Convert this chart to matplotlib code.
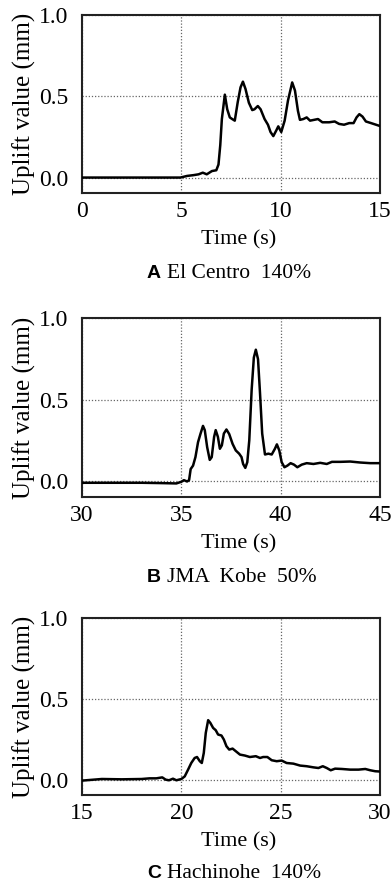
import matplotlib as mpl
import matplotlib.pyplot as plt

mpl.rcParams['font.family'] = ['Liberation Serif', 'DejaVu Serif']

# A  El Centro 140%
elcentro_t = [0, 3, 4.95, 5.29, 5.62, 5.87, 6.08, 6.28, 6.54, 6.76, 6.87, 6.96, 7.04, 7.19,
              7.31, 7.44, 7.56, 7.69, 7.84, 7.98, 8.1, 8.23, 8.4, 8.57, 8.68, 8.85, 8.99,
              9.19, 9.36, 9.49, 9.63, 9.78, 9.88, 10.03, 10.2, 10.37, 10.58, 10.72, 10.87,
              10.97, 11.14, 11.31, 11.48, 11.68, 11.88, 12.1, 12.44, 12.72, 12.94, 13.19,
              13.45, 13.67, 13.82, 13.96, 14.12, 14.29, 14.55, 14.8, 15.05]
elcentro_v = [0.0, 0.0, 0.0, 0.01, 0.015, 0.02, 0.03, 0.02, 0.04, 0.045, 0.08, 0.2, 0.36, 0.51,
              0.42, 0.37, 0.36, 0.35, 0.465, 0.555, 0.59, 0.545, 0.46, 0.415, 0.42, 0.44, 0.42,
              0.36, 0.325, 0.28, 0.255, 0.29, 0.315, 0.28, 0.35, 0.475, 0.585, 0.535, 0.41,
              0.355, 0.36, 0.37, 0.35, 0.355, 0.36, 0.34, 0.34, 0.345, 0.33, 0.325,
              0.335, 0.335, 0.37, 0.39, 0.375, 0.345, 0.335, 0.325, 0.315]

# B  JMA Kobe 50%
kobe_t = [30, 33, 34, 34.75, 35.0, 35.13, 35.29, 35.39, 35.47, 35.59, 35.71, 35.84, 35.96,
          36.09, 36.18, 36.3, 36.43, 36.53, 36.65, 36.73, 36.84, 36.94, 37.04, 37.14, 37.27,
          37.41, 37.58, 37.74, 37.91, 38.03, 38.11, 38.22, 38.32, 38.42, 38.54, 38.65, 38.75,
          38.86, 38.96, 39.07, 39.21, 39.38, 39.55, 39.71, 39.81, 39.93, 40.05, 40.19, 40.34,
          40.5, 40.67, 40.84, 41.06, 41.31, 41.65, 41.99, 42.32, 42.58, 43.0, 43.5, 44.0,
          44.51, 45.02]
kobe_v = [-0.008, -0.008, -0.01, -0.012, -0.002, 0.008, 0.0, 0.008, 0.076, 0.097, 0.149, 0.24, 0.29,
          0.34, 0.314, 0.21, 0.132, 0.149, 0.273, 0.314, 0.273, 0.2, 0.221, 0.293, 0.318,
          0.29, 0.23, 0.19, 0.17, 0.149, 0.107, 0.083, 0.118, 0.252, 0.562, 0.758, 0.806,
          0.748, 0.541, 0.293, 0.165, 0.17, 0.165, 0.2, 0.227, 0.19, 0.118, 0.087, 0.097,
          0.112, 0.103, 0.087, 0.103, 0.112, 0.107, 0.114, 0.107, 0.12, 0.12, 0.122, 0.116,
          0.112, 0.112]

# C  Hachinohe 140%
hachi_t = [15, 16, 17, 18, 18.4, 18.74, 19.04, 19.21, 19.38, 19.58, 19.75, 20.0, 20.17, 20.34,
           20.5, 20.67, 20.79, 20.93, 21.03, 21.13, 21.23, 21.35, 21.46, 21.6, 21.73, 21.85,
           22.02, 22.14, 22.27, 22.41, 22.58, 22.74, 22.95, 23.2, 23.45, 23.75, 23.96, 24.12,
           24.33, 24.55, 24.8, 25.05, 25.3, 25.64, 25.98, 26.31, 26.65, 26.9, 27.12, 27.32,
           27.52, 27.74, 28.08, 28.5, 28.92, 29.26, 29.51, 29.76, 30.02]
hachi_v = [-0.006, 0.004, 0.002, 0.004, 0.008, 0.008, 0.014, 0.0, -0.004, 0.006, -0.004, 0.004, 0.02,
           0.062, 0.103, 0.134, 0.14, 0.114, 0.103, 0.165, 0.289, 0.368, 0.351, 0.32, 0.306,
           0.279, 0.273, 0.248, 0.207, 0.186, 0.192, 0.176, 0.155, 0.149, 0.14, 0.145, 0.134,
           0.14, 0.14, 0.12, 0.114, 0.118, 0.103, 0.099, 0.087, 0.083, 0.076, 0.072, 0.083,
           0.072, 0.058, 0.068, 0.066, 0.062, 0.062, 0.066, 0.058, 0.052, 0.05]

panels = [
    (elcentro_t, elcentro_v, (0, 15), [0, 5, 10, 15], 'A', 'El Centro  140%'),
    (kobe_t, kobe_v, (30, 45), [30, 35, 40, 45], 'B', 'JMA  Kobe  50%'),
    (hachi_t, hachi_v, (15, 30), [15, 20, 25, 30], 'C', 'Hachinohe  140%'),
]

W, H = 391, 885
f = plt.figure(figsize=(W / 100, H / 100), dpi=100)

# axes boxes in pixels: left, top, right, bottom
boxes = [(82, 15, 380, 193), (82, 318, 380, 497), (82, 618, 380, 795)]
caption_y = [273, 577, 873]

for (t, v, xlim, xticks, letter, name), (l, tp, r, b), cy in zip(panels, boxes, caption_y):
    ax = f.add_axes([l / W, 1 - b / H, (r - l) / W, (b - tp) / H])
    ax.plot(t, v, color='black', lw=1.8, zorder=3)
    ax.set_xlim(*xlim)
    ax.set_ylim(-0.095, 1.0)
    ax.set_xticks(xticks)
    ax.set_yticks([0, 0.5, 1.0])
    ax.set_yticklabels(['0.0', '0.5', '1.0'])
    ax.grid(True, color='#666666', lw=0.9, ls=(0, (1, 1.5)))
    ax.tick_params(length=0, labelsize=17)
    ax.tick_params(axis='y', pad=10)
    ax.tick_params(axis='x', pad=6)
    for s in ax.spines.values():
        s.set_linewidth(1.5)
        s.set_color('#222222')
    ax.set_xlabel('Time (s)', fontsize=16, labelpad=6)
    ax.xaxis.label.set_x(0.527)
    ax.set_ylabel('Uplift value (mm)', fontsize=18, labelpad=2)

    lt = f.text(147 / W, 1 - cy / H, letter, fontsize=14, family='Liberation Sans',
                weight='bold', ha='left', va='center')
    ax.annotate(name, xy=(1, 0.5), xycoords=lt, xytext=(4, 0), textcoords='offset points',
                fontsize=15.5, ha='left', va='center')

f.savefig('out.png', dpi=100, facecolor='white')
